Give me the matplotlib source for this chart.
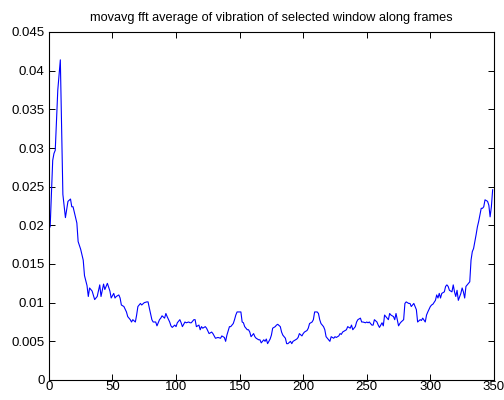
import matplotlib
matplotlib.use("Agg")
import matplotlib.pyplot as plt

# values
frames = [1, 3, 4, 5, 7, 9, 10, 11, 13, 15, 17, 18, 19, 22, 23, 25, 27, 28, 30, 31,
          32, 34, 36, 38, 40, 41, 43, 44, 46, 48, 49, 51, 52, 53, 55, 56, 57, 59, 61, 62,
          64, 65, 66, 68, 69, 70, 72, 73, 75, 77, 78, 79, 81, 82, 84, 85, 87, 88, 89, 91,
          92, 93, 95, 96, 97, 99, 100, 101, 103, 104, 105, 107, 108, 110, 111, 112, 114, 115, 116, 118,
          119, 120, 121, 123, 124, 126, 128, 129, 131, 133, 135, 136, 138, 139, 140, 142, 143, 145, 146, 147,
          148, 149, 150, 151, 152, 153, 154, 156, 157, 158, 159, 161, 162, 163, 165, 166, 167, 169, 170, 171,
          172, 174, 175, 176, 178, 179, 180, 182, 183, 184, 186, 187, 188, 190, 191, 192, 194, 195, 196, 197,
          199, 200, 201, 203, 204, 205, 207, 208, 209, 211, 212, 213, 214, 216, 217, 218, 220, 221, 222, 224,
          225, 226, 228, 229, 230, 231, 233, 234, 235, 237, 238, 239, 241, 242, 243, 245, 246, 247, 249, 250,
          251, 252, 254, 255, 256, 258, 259, 260, 262, 263, 264, 266, 267, 268, 269, 271, 272, 273, 275, 276,
          277, 279, 280, 281, 283, 284, 285, 287, 288, 289, 290, 292, 293, 294, 296, 297, 298, 300, 301, 302,
          304, 305, 306, 307, 308, 309, 311, 312, 313, 314, 315, 317, 318, 319, 320, 321, 322, 324, 325, 326,
          327, 328, 329, 331, 332, 333, 334, 336, 337, 338, 340, 341, 342, 343, 345, 346, 347, 348, 349]
values = [0.0198, 0.0284, 0.0293, 0.0297, 0.0375, 0.0414, 0.0330, 0.0240, 0.0210, 0.0231,
          0.0234, 0.0224, 0.0224, 0.0203, 0.0179, 0.0169, 0.0155, 0.0135, 0.0122, 0.0108,
          0.0119, 0.0115, 0.0104, 0.0108, 0.0123, 0.0108, 0.0124, 0.0117, 0.0125, 0.0115,
          0.0106, 0.0112, 0.0106, 0.0108, 0.0110, 0.0106, 0.0097, 0.0095, 0.0088, 0.0082,
          0.0078, 0.0075, 0.0078, 0.0075, 0.0084, 0.0095, 0.0099, 0.0097, 0.0100, 0.0101,
          0.0101, 0.0093, 0.0078, 0.0075, 0.0075, 0.0070, 0.0078, 0.0080, 0.0083, 0.0080,
          0.0086, 0.0082, 0.0075, 0.0070, 0.0068, 0.0071, 0.0069, 0.0074, 0.0078, 0.0074,
          0.0069, 0.0075, 0.0074, 0.0075, 0.0074, 0.0074, 0.0078, 0.0078, 0.0069, 0.0071,
          0.0065, 0.0069, 0.0067, 0.0069, 0.0067, 0.0060, 0.0062, 0.0060, 0.0054, 0.0055,
          0.0054, 0.0057, 0.0055, 0.0050, 0.0058, 0.0069, 0.0069, 0.0073, 0.0078, 0.0084,
          0.0088, 0.0088, 0.0088, 0.0088, 0.0075, 0.0074, 0.0069, 0.0065, 0.0065, 0.0062,
          0.0056, 0.0060, 0.0056, 0.0054, 0.0052, 0.0052, 0.0048, 0.0052, 0.0050, 0.0053,
          0.0047, 0.0053, 0.0058, 0.0067, 0.0069, 0.0071, 0.0072, 0.0069, 0.0062, 0.0058,
          0.0054, 0.0047, 0.0047, 0.0050, 0.0047, 0.0050, 0.0052, 0.0053, 0.0055, 0.0060,
          0.0057, 0.0060, 0.0062, 0.0064, 0.0067, 0.0073, 0.0075, 0.0078, 0.0088, 0.0088,
          0.0086, 0.0078, 0.0073, 0.0069, 0.0065, 0.0056, 0.0052, 0.0050, 0.0056, 0.0054,
          0.0056, 0.0055, 0.0057, 0.0060, 0.0059, 0.0062, 0.0064, 0.0065, 0.0069, 0.0067,
          0.0071, 0.0065, 0.0069, 0.0075, 0.0078, 0.0080, 0.0075, 0.0075, 0.0074, 0.0075,
          0.0074, 0.0075, 0.0071, 0.0071, 0.0078, 0.0075, 0.0071, 0.0068, 0.0074, 0.0070,
          0.0084, 0.0080, 0.0078, 0.0086, 0.0084, 0.0082, 0.0078, 0.0086, 0.0070, 0.0073,
          0.0075, 0.0078, 0.0099, 0.0101, 0.0099, 0.0099, 0.0095, 0.0099, 0.0095, 0.0091,
          0.0075, 0.0078, 0.0077, 0.0080, 0.0075, 0.0084, 0.0088, 0.0095, 0.0097, 0.0098,
          0.0103, 0.0110, 0.0106, 0.0112, 0.0106, 0.0112, 0.0114, 0.0121, 0.0123, 0.0121,
          0.0116, 0.0114, 0.0123, 0.0114, 0.0108, 0.0116, 0.0103, 0.0112, 0.0119, 0.0114,
          0.0106, 0.0121, 0.0123, 0.0127, 0.0155, 0.0166, 0.0170, 0.0188, 0.0198, 0.0205,
          0.0222, 0.0222, 0.0224, 0.0233, 0.0231, 0.0226, 0.0211, 0.0224, 0.0246]

xticks = [0, 50, 100, 150, 200, 250, 300, 350]
yticks = [0, 0.005, 0.01, 0.015, 0.02, 0.025, 0.03, 0.035, 0.04, 0.045]
ytick_labels = ["0", "0.005", "0.01", "0.015", "0.02", "0.025", "0.03", "0.035", "0.04", "0.045"]

plt.rcParams["font.family"] = ["Liberation Sans", "DejaVu Sans"]

fig = plt.figure(figsize=(5.04, 4.0), dpi=100)
ax = fig.add_axes([0.097, 0.05, 0.883, 0.87])
ax.plot(frames, values, color="blue", linewidth=0.8)
ax.set_xlim(0, 350)
ax.set_ylim(0, 0.045)
ax.set_xticks(xticks)
ax.set_yticks(yticks)
ax.set_yticklabels(ytick_labels)
ax.tick_params(direction="in", top=True, right=True, length=4, width=0.7, labelsize=9.5, pad=3)
ax.tick_params(axis="x", pad=1)
for s in ax.spines.values():
    s.set_linewidth(0.8)
ax.set_title("movavg fft average of vibration of selected window along frames", fontsize=9.2, pad=8)

plt.savefig("out.png", dpi=100)
